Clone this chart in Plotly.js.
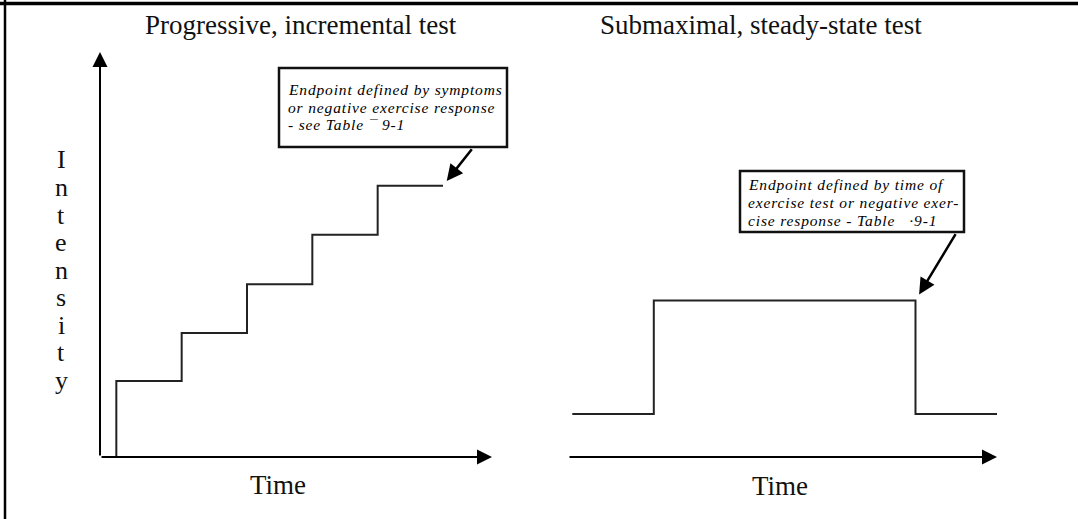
<!DOCTYPE html>
<html><head><meta charset="utf-8">
<script src="https://cdn.plot.ly/plotly-3.0.1.min.js"></script>
<style>html,body{margin:0;padding:0;background:#fff}</style>
</head><body><div id="chart" style="width:1078px;height:519px"></div>
<script>
// ---- data ----
const panelTitles = ["Progressive, incremental test", "Submaximal, steady-state test"];
const xAxisLabel = "Time";
const yAxisLabel = "Intensity";
// Progressive, incremental test: stage start times and intensity of each stage
const incStageStart = [0.25, 1.25, 2.25, 3.25, 4.25];
const incStageEnd = 5.25;
const incLevels = [1.5, 2.45, 3.41, 4.39, 5.36];
// Submaximal, steady-state test: change times and intensity levels
const ssTime = [0.1, 2.0, 8.1, 10.0];
const ssLevels = [0.85, 3.09, 0.85, 0.85];
const callout1 = ["Endpoint defined by symptoms", "or negative exercise response", "- see Table \u00AF 9-1"];
const callout2 = ["Endpoint defined by time of", "exercise test or negative exer-", "cise response - Table \u00A0\u00A0\u00B79-1"];

// ---- layout helpers (pixel -> paper) ----
const W = 1078, H = 519;
const px = v => v / W;
const py = v => 1 - v / H;
const FONT = "Liberation Serif, Times New Roman, serif";

const incX = [incStageStart[0]].concat(incStageStart, [incStageEnd]);
const incY = [0].concat(incLevels, [incLevels[incLevels.length - 1]]);

const traces = [
  {x: incX, y: incY, xaxis: 'x', yaxis: 'y', mode: 'lines', line: {shape: 'hv', color: '#222', width: 2}, hoverinfo: 'skip', showlegend: false},
  {x: ssTime, y: ssLevels, xaxis: 'x2', yaxis: 'y2', mode: 'lines', line: {shape: 'hv', color: '#222', width: 2}, hoverinfo: 'skip', showlegend: false}
];

const hidden = {visible: false, showgrid: false, zeroline: false, fixedrange: true};
const ann = [];
// axis arrows
const axArrow = {showarrow: true, text: '', arrowhead: 2, arrowsize: 1.5, arrowwidth: 2, arrowcolor: '#000', standoff: 0};
ann.push(Object.assign({}, axArrow, {xref: 'x', yref: 'y', axref: 'x', ayref: 'y', x: 0, y: 8, ax: 0, ay: 0}));
ann.push(Object.assign({}, axArrow, {xref: 'x', yref: 'y', axref: 'x', ayref: 'y', x: 6, y: 0, ax: 0, ay: 0}));
ann.push(Object.assign({}, axArrow, {xref: 'x2', yref: 'y2', axref: 'x2', ayref: 'y2', x: 10, y: 0, ax: 0, ay: 0}));
// titles
ann.push({xref: 'paper', yref: 'paper', x: px(301), y: py(25), text: panelTitles[0], showarrow: false, xanchor: 'center', yanchor: 'middle', font: {family: FONT, size: 27, color: '#111'}});
ann.push({xref: 'paper', yref: 'paper', x: px(761), y: py(25), text: panelTitles[1], showarrow: false, xanchor: 'center', yanchor: 'middle', font: {family: FONT, size: 27, color: '#111'}});
// Time labels
ann.push({xref: 'paper', yref: 'paper', x: px(278), y: py(485), text: xAxisLabel, showarrow: false, xanchor: 'center', yanchor: 'middle', font: {family: FONT, size: 27, color: '#111'}});
ann.push({xref: 'paper', yref: 'paper', x: px(780), y: py(486), text: xAxisLabel, showarrow: false, xanchor: 'center', yanchor: 'middle', font: {family: FONT, size: 27, color: '#111'}});
// Intensity stacked letters
yAxisLabel.split('').forEach((ch, i) => {
  ann.push({xref: 'paper', yref: 'paper', x: px(61), y: py(160 + i * 27.5), text: ch, showarrow: false, xanchor: 'center', yanchor: 'middle', font: {family: FONT, size: 26, color: '#111'}});
});
// callout text
const wrapLine = t => '<i><span style="letter-spacing:0.85px">' + t + '</span></i>';
callout1.forEach((t, i) => {
  ann.push({xref: 'paper', yref: 'paper', x: px(286), y: py(89 + i * 18), text: wrapLine(t), showarrow: false, xanchor: 'left', yanchor: 'middle', font: {family: FONT, size: 15.5, color: '#000'}});
});
callout2.forEach((t, i) => {
  ann.push({xref: 'paper', yref: 'paper', x: px(746), y: py(184 + i * 18), text: wrapLine(t), showarrow: false, xanchor: 'left', yanchor: 'middle', font: {family: FONT, size: 15.5, color: '#000'}});
});
// callout arrows pointing at the endpoints
ann.push({xref: 'x', yref: 'y', x: incStageEnd, y: incLevels[incLevels.length - 1], ax: 30, ay: -38, showarrow: true, text: '', arrowhead: 2, arrowsize: 1.3, arrowwidth: 2.5, arrowcolor: '#000', standoff: 6});
ann.push({xref: 'x2', yref: 'y2', x: ssTime[2], y: ssLevels[1], ax: 41, ay: -68, showarrow: true, text: '', arrowhead: 2, arrowsize: 1.3, arrowwidth: 2.5, arrowcolor: '#000', standoff: 7});

const shapes = [
  {type: 'line', xref: 'paper', yref: 'paper', x0: 0, x1: 1, y0: py(3.5), y1: py(3.5), line: {color: '#000', width: 3.5}},
  {type: 'line', xref: 'paper', yref: 'paper', x0: px(5), x1: px(5), y0: 0, y1: 1, line: {color: '#000', width: 2.5}},
  {type: 'rect', xref: 'paper', yref: 'paper', x0: px(279), x1: px(507), y0: py(147), y1: py(68), line: {color: '#111', width: 2.5}, fillcolor: '#fff', layer: 'above'},
  {type: 'rect', xref: 'paper', yref: 'paper', x0: px(740), x1: px(964), y0: py(232), y1: py(171), line: {color: '#111', width: 2.5}, fillcolor: '#fff', layer: 'above'}
];

const layout = {
  width: W, height: H,
  margin: {l: 0, r: 0, t: 0, b: 0, pad: 0},
  paper_bgcolor: '#fff', plot_bgcolor: '#fff',
  showlegend: false,
  xaxis: Object.assign({}, hidden, {domain: [px(100), px(492)], range: [0, 6], anchor: 'y'}),
  yaxis: Object.assign({}, hidden, {domain: [py(457), py(52)], range: [0, 8], anchor: 'x'}),
  xaxis2: Object.assign({}, hidden, {domain: [px(568), px(997)], range: [0, 10], anchor: 'y2'}),
  yaxis2: Object.assign({}, hidden, {domain: [py(457), py(52)], range: [0, 8], anchor: 'x2'}),
  annotations: ann,
  shapes: shapes
};

Plotly.newPlot('chart', traces, layout, {displayModeBar: false, staticPlot: true});
</script>
</body></html>
